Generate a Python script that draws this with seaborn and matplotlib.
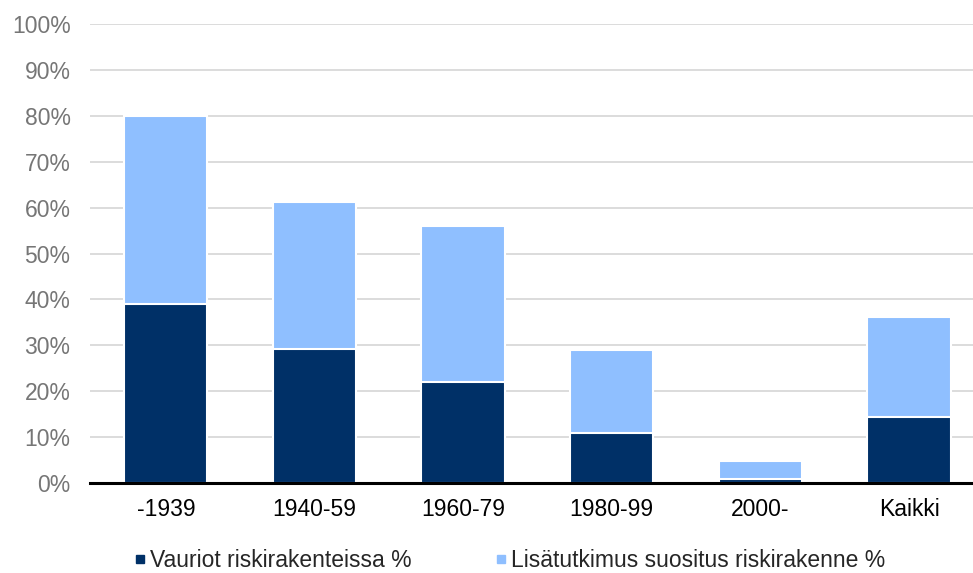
import numpy as np
import pandas as pd
import matplotlib
matplotlib.use("Agg")
import matplotlib.pyplot as plt
from matplotlib.lines import Line2D
import seaborn as sns

# Data
categories = ["-1939", "1940-59", "1960-79", "1980-99", "2000-", "Kaikki"]
vauriot = [39.0, 29.3, 22.1, 11.0, 0.9, 14.4]
lisatutkimus = [41.0, 31.9, 33.9, 17.9, 4.0, 21.8]
series_names = ["Vauriot riskirakenteissa %", "Lisätutkimus suositus riskirakenne %"]

dark = "#003067"
light = "#8fbfff"

sns.set_theme(style="white")
plt.rcParams["font.family"] = ["Liberation Sans", "DejaVu Sans"]

df = pd.DataFrame({"Kategoria": categories, "Vauriot": vauriot, "Lisa": lisatutkimus})
df["Yhteensa"] = df["Vauriot"] + df["Lisa"]

fig = plt.figure(figsize=(9.73, 5.73), dpi=100)
ax = fig.add_axes([0.0925, 0.157, 0.9075, 0.801])

# total bar (light) with the dark part drawn over it
sns.barplot(data=df, x="Kategoria", y="Yhteensa", color=light, width=0.56,
            edgecolor="white", linewidth=1.5, saturation=1, ax=ax, zorder=2)
sns.barplot(data=df, x="Kategoria", y="Vauriot", color=dark, width=0.56,
            edgecolor="white", linewidth=1.5, saturation=1, ax=ax, zorder=3)

ax.set_ylim(0, 100)
ax.set_xlim(-0.51, 5.43)
ax.set_yticks(np.arange(0, 101, 10))
ax.set_yticklabels([f"{v}%" for v in range(0, 101, 10)], color="#767676", fontsize=16.5)
ax.tick_params(axis="x", labelsize=16.5, labelcolor="black", length=0, pad=11)
ax.tick_params(axis="y", length=0, pad=14)
ax.set_xlabel("")
ax.set_ylabel("")
ax.yaxis.grid(True, color="#d9d9d9", linewidth=1.3, zorder=0)
ax.set_axisbelow(True)
for s in ["top", "right", "left"]:
    ax.spines[s].set_visible(False)
ax.spines["bottom"].set_color("black")
ax.spines["bottom"].set_linewidth(2.2)
ax.spines["bottom"].set_zorder(5)

handles = [Line2D([], [], marker="s", linestyle="", color=dark, markersize=6),
           Line2D([], [], marker="s", linestyle="", color=light, markersize=6)]
fig.legend(handles, series_names, loc="center", bbox_to_anchor=(0.522, 0.022),
           ncol=2, frameon=False, fontsize=16.5, handletextpad=0.05,
           columnspacing=3.5, handlelength=0.8)

fig.savefig("out.png", dpi=100)
